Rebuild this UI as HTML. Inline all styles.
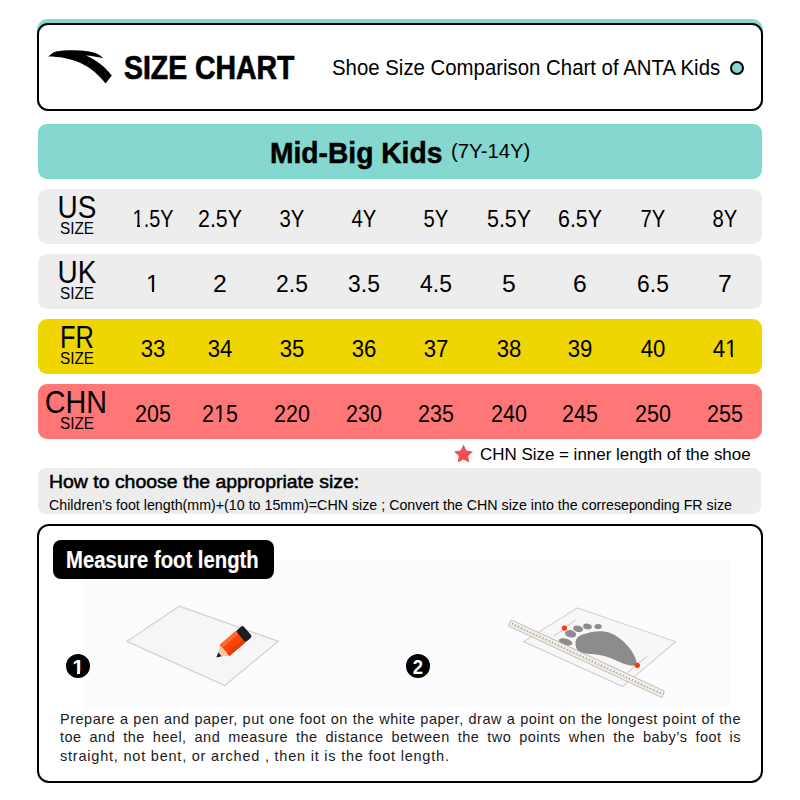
<!DOCTYPE html>
<html><head><meta charset="utf-8"><title>Size Chart</title>
<style>
html,body{margin:0;padding:0;background:#fff;}
body{width:800px;height:800px;position:relative;overflow:hidden;font-family:"Liberation Sans", "DejaVu Sans", sans-serif;}
</style></head><body>
<div style="position:absolute;left:37px;top:19px;width:726px;height:40px;background:#84d8d0;border-radius:11px;box-sizing:border-box;"></div>
<div style="position:absolute;left:37px;top:23px;width:726px;height:88px;background:#fff;border-radius:11px;box-sizing:border-box;border:2px solid #000;"></div>
<svg style="position:absolute;left:0;top:0" width="800" height="120" viewBox="0 0 800 120">
<path d="M48.2 56.6 C51 54.2 53 52.2 56 51.5 C66 49.6 86 49.8 95 53 C98.5 54.3 101.5 56 103.3 58.3 C97 56.8 91 55.8 86 55.5 C96 60 105.5 67 111.8 75.5 L105.5 83.6 C100 76 92 68.5 80 62.8 C70 58.5 58 56.5 48.2 56.6 Z" fill="#000"/>
</svg>
<div style="position:absolute;top:51.27px;font-size:33px;line-height:33px;font-weight:700;color:#000;white-space:nowrap;left:124.00px;transform:scaleX(0.86);transform-origin:0 0;-webkit-text-stroke:0.7px #000;">SIZE CHART</div>
<div style="position:absolute;top:56.95px;font-size:21.8px;line-height:21.8px;font-weight:400;color:#000;white-space:nowrap;left:332.00px;transform:scaleX(0.935);transform-origin:0 0;">Shoe Size Comparison Chart of ANTA Kids</div>
<div style="position:absolute;left:730px;top:61px;width:14px;height:14px;background:#84d8d0;border-radius:7px;box-sizing:border-box;border:2px solid #000;"></div>
<div style="position:absolute;left:38px;top:124px;width:724px;height:55px;background:#84d8d0;border-radius:9px;box-sizing:border-box;"></div>
<div style="position:absolute;top:138.00px;font-size:30px;line-height:30px;font-weight:700;color:#000;white-space:nowrap;left:270.20px;transform:scaleX(0.94);transform-origin:0 0;-webkit-text-stroke:0.5px #000;">Mid-Big Kids</div>
<div style="position:absolute;top:141.35px;font-size:20.5px;line-height:20.5px;font-weight:400;color:#000;white-space:nowrap;left:451.00px;transform:scaleX(0.99);transform-origin:0 0;">(7Y-14Y)</div>
<div style="position:absolute;left:38px;top:189px;width:724px;height:55px;background:#ededed;border-radius:9px;box-sizing:border-box;"></div>
<div style="position:absolute;top:191.56px;font-size:31px;line-height:31px;font-weight:400;color:#000;white-space:nowrap;left:37.00px;width:80px;text-align:center;transform:scaleX(0.9);transform-origin:40.0px 0;">US</div>
<div style="position:absolute;top:219.57px;font-size:17.4px;line-height:17.4px;font-weight:400;color:#000;white-space:nowrap;left:47.30px;width:60px;text-align:center;transform:scaleX(0.88);transform-origin:30.0px 0;">SIZE</div>
<div style="position:absolute;top:207.72px;font-size:23.6px;line-height:23.6px;font-weight:400;color:#000;white-space:nowrap;left:117.50px;width:70px;text-align:center;transform:scaleX(0.84);transform-origin:35.0px 0;">1.5Y</div>
<div style="position:absolute;top:207.72px;font-size:23.6px;line-height:23.6px;font-weight:400;color:#000;white-space:nowrap;left:185.40px;width:70px;text-align:center;transform:scaleX(0.906);transform-origin:35.0px 0;">2.5Y</div>
<div style="position:absolute;top:207.72px;font-size:23.6px;line-height:23.6px;font-weight:400;color:#000;white-space:nowrap;left:256.60px;width:70px;text-align:center;transform:scaleX(0.86);transform-origin:35.0px 0;">3Y</div>
<div style="position:absolute;top:207.72px;font-size:23.6px;line-height:23.6px;font-weight:400;color:#000;white-space:nowrap;left:329.00px;width:70px;text-align:center;transform:scaleX(0.86);transform-origin:35.0px 0;">4Y</div>
<div style="position:absolute;top:207.72px;font-size:23.6px;line-height:23.6px;font-weight:400;color:#000;white-space:nowrap;left:401.00px;width:70px;text-align:center;transform:scaleX(0.86);transform-origin:35.0px 0;">5Y</div>
<div style="position:absolute;top:207.72px;font-size:23.6px;line-height:23.6px;font-weight:400;color:#000;white-space:nowrap;left:473.50px;width:70px;text-align:center;transform:scaleX(0.906);transform-origin:35.0px 0;">5.5Y</div>
<div style="position:absolute;top:207.72px;font-size:23.6px;line-height:23.6px;font-weight:400;color:#000;white-space:nowrap;left:545.00px;width:70px;text-align:center;transform:scaleX(0.906);transform-origin:35.0px 0;">6.5Y</div>
<div style="position:absolute;top:207.72px;font-size:23.6px;line-height:23.6px;font-weight:400;color:#000;white-space:nowrap;left:617.50px;width:70px;text-align:center;transform:scaleX(0.86);transform-origin:35.0px 0;">7Y</div>
<div style="position:absolute;top:207.72px;font-size:23.6px;line-height:23.6px;font-weight:400;color:#000;white-space:nowrap;left:689.70px;width:70px;text-align:center;transform:scaleX(0.86);transform-origin:35.0px 0;">8Y</div>
<div style="position:absolute;left:38px;top:254px;width:724px;height:55px;background:#ededed;border-radius:9px;box-sizing:border-box;"></div>
<div style="position:absolute;top:256.56px;font-size:31px;line-height:31px;font-weight:400;color:#000;white-space:nowrap;left:37.20px;width:80px;text-align:center;transform:scaleX(0.9);transform-origin:40.0px 0;">UK</div>
<div style="position:absolute;top:284.57px;font-size:17.4px;line-height:17.4px;font-weight:400;color:#000;white-space:nowrap;left:47.30px;width:60px;text-align:center;transform:scaleX(0.88);transform-origin:30.0px 0;">SIZE</div>
<div style="position:absolute;top:272.72px;font-size:23.6px;line-height:23.6px;font-weight:400;color:#000;white-space:nowrap;left:117.50px;width:70px;text-align:center;">1</div>
<div style="position:absolute;top:272.72px;font-size:23.6px;line-height:23.6px;font-weight:400;color:#000;white-space:nowrap;left:185.40px;width:70px;text-align:center;transform:scaleX(1.05);transform-origin:35.0px 0;">2</div>
<div style="position:absolute;top:272.72px;font-size:23.6px;line-height:23.6px;font-weight:400;color:#000;white-space:nowrap;left:256.60px;width:70px;text-align:center;transform:scaleX(0.97);transform-origin:35.0px 0;">2.5</div>
<div style="position:absolute;top:272.72px;font-size:23.6px;line-height:23.6px;font-weight:400;color:#000;white-space:nowrap;left:329.00px;width:70px;text-align:center;transform:scaleX(0.97);transform-origin:35.0px 0;">3.5</div>
<div style="position:absolute;top:272.72px;font-size:23.6px;line-height:23.6px;font-weight:400;color:#000;white-space:nowrap;left:401.00px;width:70px;text-align:center;transform:scaleX(0.97);transform-origin:35.0px 0;">4.5</div>
<div style="position:absolute;top:272.72px;font-size:23.6px;line-height:23.6px;font-weight:400;color:#000;white-space:nowrap;left:473.50px;width:70px;text-align:center;transform:scaleX(1.05);transform-origin:35.0px 0;">5</div>
<div style="position:absolute;top:272.72px;font-size:23.6px;line-height:23.6px;font-weight:400;color:#000;white-space:nowrap;left:545.00px;width:70px;text-align:center;transform:scaleX(1.05);transform-origin:35.0px 0;">6</div>
<div style="position:absolute;top:272.72px;font-size:23.6px;line-height:23.6px;font-weight:400;color:#000;white-space:nowrap;left:617.50px;width:70px;text-align:center;transform:scaleX(0.97);transform-origin:35.0px 0;">6.5</div>
<div style="position:absolute;top:272.72px;font-size:23.6px;line-height:23.6px;font-weight:400;color:#000;white-space:nowrap;left:689.70px;width:70px;text-align:center;transform:scaleX(1.05);transform-origin:35.0px 0;">7</div>
<div style="position:absolute;left:38px;top:319px;width:724px;height:55px;background:#f0d600;border-radius:9px;box-sizing:border-box;"></div>
<div style="position:absolute;top:321.56px;font-size:31px;line-height:31px;font-weight:400;color:#000;white-space:nowrap;left:37.00px;width:80px;text-align:center;transform:scaleX(0.82);transform-origin:40.0px 0;">FR</div>
<div style="position:absolute;top:349.57px;font-size:17.4px;line-height:17.4px;font-weight:400;color:#000;white-space:nowrap;left:47.30px;width:60px;text-align:center;transform:scaleX(0.88);transform-origin:30.0px 0;">SIZE</div>
<div style="position:absolute;top:337.72px;font-size:23.6px;line-height:23.6px;font-weight:400;color:#000;white-space:nowrap;left:117.50px;width:70px;text-align:center;transform:scaleX(0.94);transform-origin:35.0px 0;">33</div>
<div style="position:absolute;top:337.72px;font-size:23.6px;line-height:23.6px;font-weight:400;color:#000;white-space:nowrap;left:185.40px;width:70px;text-align:center;transform:scaleX(0.94);transform-origin:35.0px 0;">34</div>
<div style="position:absolute;top:337.72px;font-size:23.6px;line-height:23.6px;font-weight:400;color:#000;white-space:nowrap;left:256.60px;width:70px;text-align:center;transform:scaleX(0.94);transform-origin:35.0px 0;">35</div>
<div style="position:absolute;top:337.72px;font-size:23.6px;line-height:23.6px;font-weight:400;color:#000;white-space:nowrap;left:329.00px;width:70px;text-align:center;transform:scaleX(0.94);transform-origin:35.0px 0;">36</div>
<div style="position:absolute;top:337.72px;font-size:23.6px;line-height:23.6px;font-weight:400;color:#000;white-space:nowrap;left:401.00px;width:70px;text-align:center;transform:scaleX(0.94);transform-origin:35.0px 0;">37</div>
<div style="position:absolute;top:337.72px;font-size:23.6px;line-height:23.6px;font-weight:400;color:#000;white-space:nowrap;left:473.50px;width:70px;text-align:center;transform:scaleX(0.94);transform-origin:35.0px 0;">38</div>
<div style="position:absolute;top:337.72px;font-size:23.6px;line-height:23.6px;font-weight:400;color:#000;white-space:nowrap;left:545.00px;width:70px;text-align:center;transform:scaleX(0.94);transform-origin:35.0px 0;">39</div>
<div style="position:absolute;top:337.72px;font-size:23.6px;line-height:23.6px;font-weight:400;color:#000;white-space:nowrap;left:617.50px;width:70px;text-align:center;transform:scaleX(0.94);transform-origin:35.0px 0;">40</div>
<div style="position:absolute;top:337.72px;font-size:23.6px;line-height:23.6px;font-weight:400;color:#000;white-space:nowrap;left:689.70px;width:70px;text-align:center;transform:scaleX(0.94);transform-origin:35.0px 0;">41</div>
<div style="position:absolute;left:38px;top:384px;width:724px;height:55px;background:#ff7676;border-radius:9px;box-sizing:border-box;"></div>
<div style="position:absolute;top:386.56px;font-size:31px;line-height:31px;font-weight:400;color:#000;white-space:nowrap;left:36.40px;width:80px;text-align:center;transform:scaleX(0.927);transform-origin:40.0px 0;">CHN</div>
<div style="position:absolute;top:414.57px;font-size:17.4px;line-height:17.4px;font-weight:400;color:#000;white-space:nowrap;left:47.30px;width:60px;text-align:center;transform:scaleX(0.88);transform-origin:30.0px 0;">SIZE</div>
<div style="position:absolute;top:402.72px;font-size:23.6px;line-height:23.6px;font-weight:400;color:#000;white-space:nowrap;left:117.50px;width:70px;text-align:center;transform:scaleX(0.91);transform-origin:35.0px 0;">205</div>
<div style="position:absolute;top:402.72px;font-size:23.6px;line-height:23.6px;font-weight:400;color:#000;white-space:nowrap;left:185.40px;width:70px;text-align:center;transform:scaleX(0.91);transform-origin:35.0px 0;">215</div>
<div style="position:absolute;top:402.72px;font-size:23.6px;line-height:23.6px;font-weight:400;color:#000;white-space:nowrap;left:256.60px;width:70px;text-align:center;transform:scaleX(0.91);transform-origin:35.0px 0;">220</div>
<div style="position:absolute;top:402.72px;font-size:23.6px;line-height:23.6px;font-weight:400;color:#000;white-space:nowrap;left:329.00px;width:70px;text-align:center;transform:scaleX(0.91);transform-origin:35.0px 0;">230</div>
<div style="position:absolute;top:402.72px;font-size:23.6px;line-height:23.6px;font-weight:400;color:#000;white-space:nowrap;left:401.00px;width:70px;text-align:center;transform:scaleX(0.91);transform-origin:35.0px 0;">235</div>
<div style="position:absolute;top:402.72px;font-size:23.6px;line-height:23.6px;font-weight:400;color:#000;white-space:nowrap;left:473.50px;width:70px;text-align:center;transform:scaleX(0.91);transform-origin:35.0px 0;">240</div>
<div style="position:absolute;top:402.72px;font-size:23.6px;line-height:23.6px;font-weight:400;color:#000;white-space:nowrap;left:545.00px;width:70px;text-align:center;transform:scaleX(0.91);transform-origin:35.0px 0;">245</div>
<div style="position:absolute;top:402.72px;font-size:23.6px;line-height:23.6px;font-weight:400;color:#000;white-space:nowrap;left:617.50px;width:70px;text-align:center;transform:scaleX(0.91);transform-origin:35.0px 0;">250</div>
<div style="position:absolute;top:402.72px;font-size:23.6px;line-height:23.6px;font-weight:400;color:#000;white-space:nowrap;left:689.70px;width:70px;text-align:center;transform:scaleX(0.91);transform-origin:35.0px 0;">255</div>
<div style="position:absolute;left:132.6px;top:225px;width:4.70px;height:2px;background:#ededed;"></div>
<div style="position:absolute;left:139.7px;top:225px;width:3.60px;height:2px;background:#ededed;"></div>
<div style="position:absolute;left:146.8px;top:290px;width:5.10px;height:2px;background:#ededed;"></div>
<div style="position:absolute;left:154.1px;top:290px;width:5.10px;height:2px;background:#ededed;"></div>
<div style="position:absolute;left:214.8px;top:420px;width:4.50px;height:2px;background:#ff7676;"></div>
<div style="position:absolute;left:221.4px;top:420px;width:4.60px;height:2px;background:#ff7676;"></div>
<div style="position:absolute;left:725px;top:355px;width:5.60px;height:2px;background:#f0d600;"></div>
<div style="position:absolute;left:733.1px;top:355px;width:4.90px;height:2px;background:#f0d600;"></div>
<svg style="position:absolute;left:0;top:0" width="800" height="480" viewBox="0 0 800 480">
<polygon points="463.50,444.55 466.38,450.54 472.96,451.43 468.16,456.01 469.35,462.55 463.50,459.40 457.65,462.55 458.84,456.01 454.04,451.43 460.62,450.54" fill="#f24e4e"/>
</svg>
<div style="position:absolute;top:445.92px;font-size:16.4px;line-height:16.4px;font-weight:400;color:#000;white-space:nowrap;left:480.20px;transform:scaleX(1.033);transform-origin:0 0;">CHN Size = inner length of the shoe</div>
<div style="position:absolute;left:38px;top:468px;width:723px;height:46px;background:#ededed;border-radius:8px;box-sizing:border-box;"></div>
<div style="position:absolute;top:472.76px;font-size:18px;line-height:18px;font-weight:400;color:#000;white-space:nowrap;left:48.60px;transform:scaleX(1.08);transform-origin:0 0;-webkit-text-stroke:0.5px #000;">How to choose the appropriate size:</div>
<div style="position:absolute;top:497.58px;font-size:14.2px;line-height:14.2px;font-weight:400;color:#000;white-space:nowrap;left:48.50px;transform:scaleX(1.004);transform-origin:0 0;">Children&#8217;s foot length(mm)+(10 to 15mm)=CHN size ; Convert the CHN size into the correseponding FR size</div>
<div style="position:absolute;left:37px;top:524px;width:726px;height:259px;background:#fff;border-radius:12px;box-sizing:border-box;border:2px solid #000;"></div>
<div style="position:absolute;left:85px;top:560px;width:645px;height:150px;background:#fcfbfd;border-radius:0px;box-sizing:border-box;"></div>
<div style="position:absolute;left:53px;top:540px;width:221px;height:38.5px;background:#000;border-radius:8px;box-sizing:border-box;"></div>
<div style="position:absolute;top:548.59px;font-size:23.4px;line-height:23.4px;font-weight:700;color:#fff;white-space:nowrap;left:65.50px;transform:scaleX(0.867);transform-origin:0 0;-webkit-text-stroke:0.2px #fff;">Measure foot length</div>
<div style="position:absolute;left:66px;top:654px;width:24px;height:24px;background:#000;border-radius:12px;box-sizing:border-box;"></div>
<div style="position:absolute;top:656.12px;font-size:21px;line-height:21px;font-weight:700;color:#fff;white-space:nowrap;left:66.00px;width:24px;text-align:center;">1</div>
<div style="position:absolute;left:72px;top:671px;width:5px;height:4px;background:#000;border-radius:0px;box-sizing:border-box;"></div>
<div style="position:absolute;left:80px;top:671px;width:5px;height:4px;background:#000;border-radius:0px;box-sizing:border-box;"></div>
<div style="position:absolute;left:406px;top:654px;width:24px;height:24px;background:#000;border-radius:12px;box-sizing:border-box;"></div>
<div style="position:absolute;top:656.12px;font-size:21px;line-height:21px;font-weight:700;color:#fff;white-space:nowrap;left:406.00px;width:24px;text-align:center;transform:scaleX(0.88);transform-origin:12.0px 0;">2</div>
<svg style="position:absolute;left:0;top:580px" width="800" height="130" viewBox="0 580 800 130">
<polygon points="179.3,606.2 278.3,641.3 224.8,685.6 126.9,641.3" fill="#f6f6f6" stroke="#d2d2d2" stroke-width="1.3"/>
<g transform="translate(216.3,657.5) rotate(-40.5)">
<polygon points="0,0 5,-2.6 5,2.6" fill="#1a1a1a"/>
<polygon points="5,-2.6 11,-7.4 11,7.4 5,2.6" fill="#f3c89e"/>
<rect x="11" y="-7.4" width="21.5" height="14.8" fill="#ff430a"/>
<rect x="11" y="-7.4" width="21.5" height="4" fill="#ff6a2a"/>
<rect x="11" y="3.6" width="21.5" height="3.8" fill="#e83a06"/>
<rect x="32" y="-7.4" width="9" height="14.8" rx="2.2" fill="#1e1e1e"/>
</g>
<polygon points="577.6,607.9 675.5,641.6 622.6,686.6 523.6,641.6" fill="#f7f7f7" stroke="#d0d0d0" stroke-width="1.1"/>
<line x1="553.8" y1="636.3" x2="575.6" y2="620" stroke="#e9a9a0" stroke-width="0.9"/>
<line x1="627.5" y1="672.5" x2="646.9" y2="656.3" stroke="#e9a9a0" stroke-width="0.9"/>
<g fill="#8c8c8c">
<path d="M575.6 641.9 C576.5 637.5 579 636 582 634.8 C590 631.8 598 630.8 604 631.4 C612 632.3 619 637 624.5 642.5 C629.5 647.5 634.5 654 636.3 661 C637 664.5 635 666 632 665.8 C627 665.4 621 662.5 615 660 C609 657.3 603 655.5 596 654.6 C589 654 582 653.5 578.5 651 C576 649 575.3 645 575.6 641.9 Z"/>
<ellipse cx="565.6" cy="641.9" rx="7" ry="3.3" transform="rotate(15 565.6 641.9)"/>
<ellipse cx="570.6" cy="633.8" rx="5.7" ry="3.6" transform="rotate(12 570.6 633.8)"/>
<ellipse cx="578.1" cy="628.8" rx="5" ry="3.2" transform="rotate(12 578.1 628.8)"/>
<ellipse cx="587.5" cy="626.5" rx="4.4" ry="2.8" transform="rotate(8 587.5 626.5)"/>
<ellipse cx="598.1" cy="626.5" rx="3.6" ry="2.6"/>
</g>
<polygon points="511.3,619.8 664.3,691.1 662,697.7 508.3,625.8" fill="#f4f1ec" stroke="#b4b4b4" stroke-width="0.9"/>
<line x1="512" y1="623.5" x2="661" y2="693.3" stroke="#8a7868" stroke-width="1.6" stroke-dasharray="0.8 2.6"/>
<line x1="512" y1="624.6" x2="661" y2="694.4" stroke="#c8b8a8" stroke-width="0.6"/>
<circle cx="564.4" cy="628.1" r="2.6" fill="#ff3512"/>
<circle cx="637.3" cy="665.3" r="2.6" fill="#ff3512"/>
</svg>
<div style="position:absolute;left:60px;width:681px;font-size:14.5px;line-height:18px;color:#1a1a1a;white-space:nowrap;top:710.2px;letter-spacing:0.5px;text-align:justify;text-align-last:justify;white-space:normal;">Prepare a pen and paper, put one foot on the white paper, draw a point on the longest point of the</div>
<div style="position:absolute;left:60px;width:681px;font-size:14.5px;line-height:18px;color:#1a1a1a;white-space:nowrap;top:728.4px;letter-spacing:0.5px;text-align:justify;text-align-last:justify;white-space:normal;">toe and the heel, and measure the distance between the two points when the baby&#8217;s foot is</div>
<div style="position:absolute;left:60px;width:681px;font-size:14.5px;line-height:18px;color:#1a1a1a;white-space:nowrap;top:746.5px;letter-spacing:0.785px;">straight, not bent, or arched , then it is the foot length.</div>
</body></html>
